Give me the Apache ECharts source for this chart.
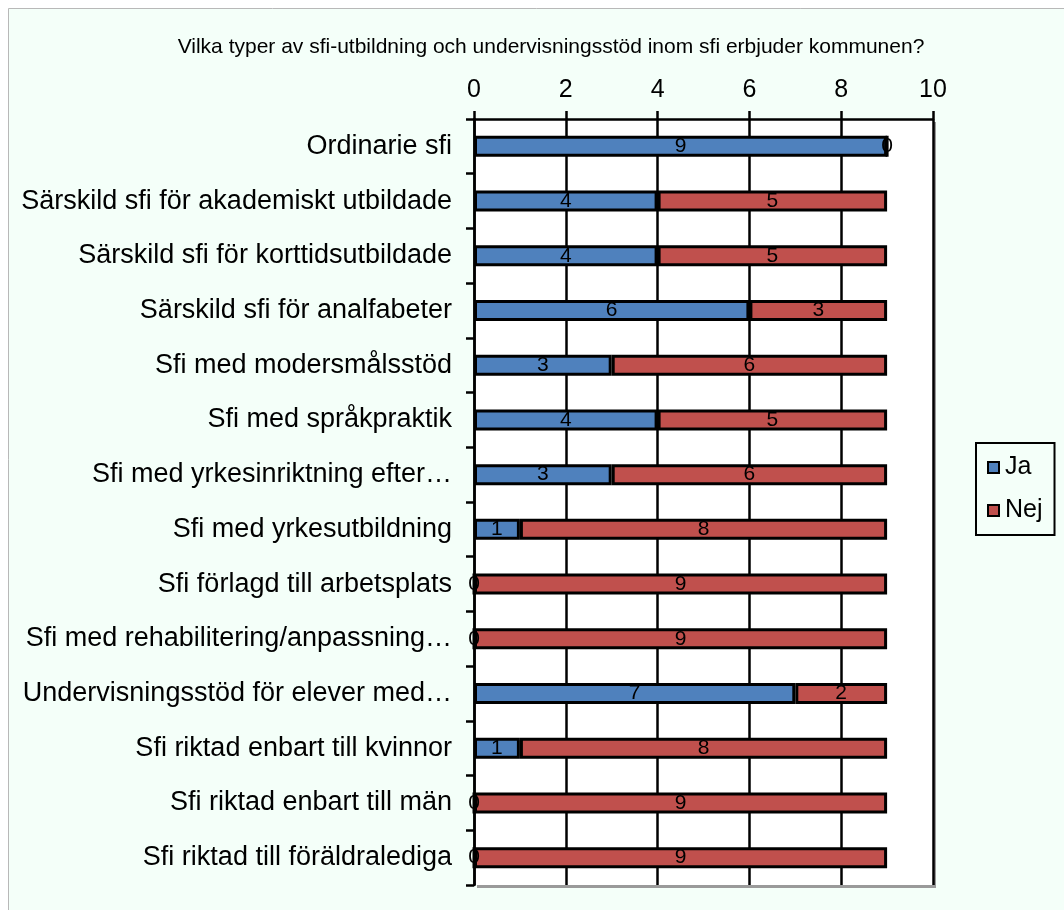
<!DOCTYPE html>
<html><head><meta charset="utf-8">
<script src="https://cdn.jsdelivr.net/npm/echarts@6/dist/echarts.min.js"></script>
<style>html,body{margin:0;padding:0;background:#fff}#c{width:1064px;height:910px}</style>
</head><body><div id="c"></div>
<script>
const categories = [
  "Ordinarie sfi",
  "Särskild sfi för akademiskt utbildade",
  "Särskild sfi för korttidsutbildade",
  "Särskild sfi för analfabeter",
  "Sfi med modersmålsstöd",
  "Sfi med språkpraktik",
  "Sfi med yrkesinriktning efter…",
  "Sfi med yrkesutbildning",
  "Sfi förlagd till arbetsplats",
  "Sfi med rehabilitering/anpassning…",
  "Undervisningsstöd för elever med…",
  "Sfi riktad enbart till kvinnor",
  "Sfi riktad enbart till män",
  "Sfi riktad till föräldralediga"
];
const ja  = [9,4,4,6,3,4,3,1,0,0,7,1,0,0];
const nej = [0,5,5,3,6,5,6,8,9,9,2,8,9,9];
const xTicks = { min: 0, max: 10, interval: 2 };
const titleText = "Vilka typer av sfi-utbildning och undervisningsstöd inom sfi erbjuder kommunen?";

const chart = echarts.init(document.getElementById('c'), null, {renderer:'canvas'});
const font = 'Arial, "Liberation Sans", sans-serif';
const lbl = { show: true, position: 'inside', color: '#000', fontSize: 21, fontFamily: font };
chart.setOption({
  backgroundColor: '#fff',
  animation: false,
  graphic: [{ type: 'rect', z: -10, shape: { x: 8.5, y: 8.5, width: 1100, height: 1000 },
    style: { fill: '#F4FFF9', stroke: '#b8b8b8', lineWidth: 1 } }],
  title: { text: titleText, left: 546, top: 32, textAlign: 'center',
    textStyle: { fontFamily: font, fontSize: 21, fontWeight: 'normal', color: '#000' } },
  legend: {
    data: ['Ja', 'Nej'], orient: 'vertical', left: 976, top: 443,
    itemWidth: 11, itemHeight: 11, itemGap: 18, icon: 'rect',
    borderColor: '#000', borderWidth: 2, padding: [12, 12, 12, 11],
    textStyle: { fontFamily: font, fontSize: 25, color: '#000', padding: [0,0,0,1] }
  },
  grid: { left: 474, right: 131, top: 119, bottom: 25, show: true, backgroundColor: '#fff',
    borderWidth: 0, shadowColor: '#9a9a9a', shadowOffsetX: 3, shadowOffsetY: 3, shadowBlur: 0 },
  xAxis: {
    type: 'value', position: 'top', min: xTicks.min, max: xTicks.max, interval: xTicks.interval,
    axisLine: { show: true, lineStyle: { color: '#000', width: 2.5 } },
    axisTick: { show: true, length: 8, lineStyle: { color: '#000', width: 2.5 } },
    splitLine: { show: true, lineStyle: { color: '#000', width: 2.5 } },
    axisLabel: { fontFamily: font, fontSize: 25, color: '#000', margin: 16 }
  },
  yAxis: {
    type: 'category', inverse: true, data: categories,
    axisLine: { show: true, lineStyle: { color: '#000', width: 2.5 } },
    axisTick: { show: true, length: 8, lineStyle: { color: '#000', width: 2.5 } },
    axisLabel: { fontFamily: font, fontSize: 27, color: '#000', margin: 22 }
  },
  series: [
    { name: 'Ja', type: 'bar', stack: 's', data: ja, barWidth: 21,
      itemStyle: { color: '#4F81BD', borderColor: '#000', borderWidth: 3 }, label: lbl },
    { name: 'Nej', type: 'bar', stack: 's', data: nej, barWidth: 21,
      itemStyle: { color: '#C0504D', borderColor: '#000', borderWidth: 3 }, label: lbl }
  ]
});
</script></body></html>
